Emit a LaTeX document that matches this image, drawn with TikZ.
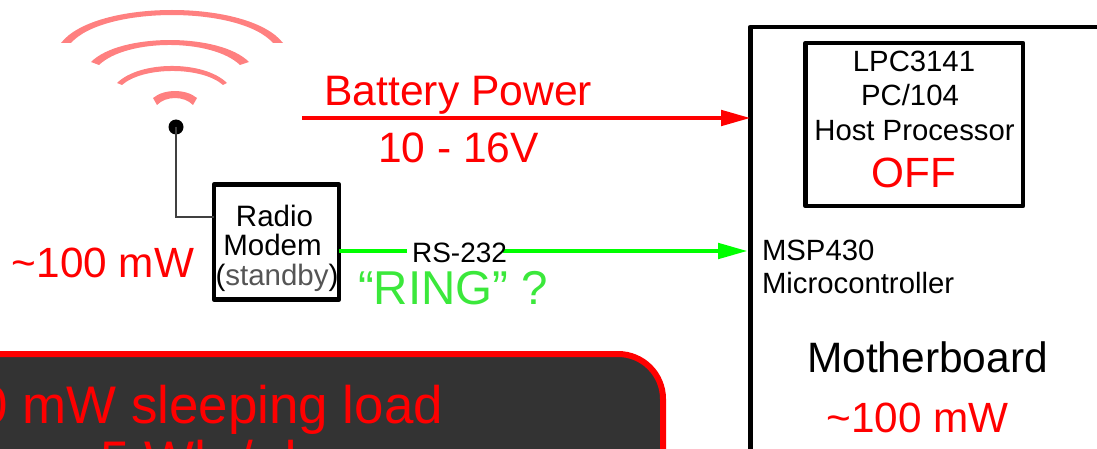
\documentclass[tikz,border=0pt]{standalone}
\usepackage{fontspec}
\setmainfont{Liberation Sans}
\usetikzlibrary{arrows.meta}
\definecolor{wave}{HTML}{FF8080}
\definecolor{ringgreen}{HTML}{3BE83B}
\definecolor{darkpanel}{HTML}{333333}
\definecolor{standbygray}{HTML}{555555}
\newcommand{\fsz}[1]{\fontsize{#1}{#1}\selectfont}
\tikzset{
  lbl/.style={inner sep=0pt,outer sep=0pt,anchor=base},
  lblw/.style={inner sep=0pt,outer sep=0pt,anchor=base west},
  heavybox/.style={draw=black,line width=4.8pt,fill=white,inner sep=0pt,outer sep=0pt,line join=round},
  wavearc/.style={fill=wave,draw=none},
  feed/.style={line width=4.8pt,-{Triangle[length=30pt,width=15pt]}}
}
\begin{document}
\begin{tikzpicture}[x=1pt,y=-1pt]
\useasboundingbox (0,0) rectangle (1097,449);
\clip (0,0) rectangle (1097,449);
% wifi waves
\fill[wavearc] (61,43) .. controls (95,-1) and (249,-1) .. (283,43) -- (273,43) .. controls (240,5.7) and (104,5.7) .. (71,43) -- cycle;
\fill[wavearc] (91,62) .. controls (120,32.7) and (220,32.7) .. (249,62) -- (240,65) .. controls (212,38.3) and (127,38.3) .. (99,65) -- cycle;
\fill[wavearc] (117,83) .. controls (140,60.3) and (204,60.3) .. (227,83) -- (223,85) .. controls (202,66.3) and (143,66.3) .. (122,85) -- cycle;
\fill[wavearc] (153,98) .. controls (164,88.7) and (186,88.7) .. (197,98) -- (193,105) .. controls (184,95.7) and (166,95.7) .. (157,105) -- cycle;
% motherboard
\node[heavybox,minimum width=360pt,minimum height=450pt,anchor=north west] (mb) at (750.4,27) {};
\node[heavybox,minimum width=217.5pt,minimum height=163pt,anchor=north west] (cpu) at (805.5,43) {};
\node[heavybox,minimum width=125pt,minimum height=114.5pt,anchor=north west] (modem) at (214,184.7) {};
\node[lbl,font=\fsz{29.5}] (tradio) at (274.5,226) {Radio};
\node[lbl,font=\fsz{29.5}] (tmodem) at (272.5,255) {Modem};
\node[lbl,font=\fsz{29.5}] (tstandby) at (277,285) {(\textcolor{standbygray}{standby})};
% antenna
\node[circle,fill=black,inner sep=0pt,minimum size=15pt] (ant) at (176,127) {};
\coordinate (modemfeed) at (214,217);
\draw[line width=1.3pt,draw=black!75] (ant.center) |- (modemfeed);
% battery
\coordinate (batstart) at (302,118);
\coordinate (batin) at (751,118);
\draw[feed,red] (batstart) -- (batin);
\node[lblw,red,font=\fsz{42.6}] (tbat) at (324.5,106) {Battery Power};
\node[lbl,red,font=\fsz{42.5}] (tvolt) at (458.5,163) {10 - 16V};
% RS-232
\coordinate (gapL) at (407,251);
\coordinate (gapR) at (503,251);
\coordinate (rsin) at (748,251);
\draw[line width=4.8pt,draw=green] (modem.east |- gapL) -- (gapL);
\draw[feed,green] (gapR) -- (rsin);
\node[lbl,font=\fsz{28}] (trs) at (459.5,262) {RS-232};
\node[lbl,ringgreen,font=\fsz{47.5}] (tring) at (453,304) {“RING” ?};
\node[lblw,red,font=\fsz{42.3}] (tp1) at (12,277) {\char"007E 100 mW};
% cpu text
\node[lbl,font=\fsz{29.3}] (t1) at (914,72) {LPC3141};
\node[lbl,font=\fsz{29.3}] (t2) at (910,105.5) {PC/104};
\node[lbl,font=\fsz{29.3}] (t3) at (914.5,140.5) {Host Processor};
\node[lbl,red,font=\fsz{42.3}] (t4) at (914,188) {OFF};
\node[lblw,font=\fsz{29.3}] (t5) at (762,260) {MSP430};
\node[lblw,font=\fsz{29.3}] (t6) at (762,293) {Microcontroller};
\node[lblw,font=\fsz{42.5}] (t7) at (807,372) {Motherboard};
\node[lblw,red,font=\fsz{42.3}] (t8) at (826.5,432) {\char"007E 100 mW};
% dark panel
\node[draw=red,fill=darkpanel,line width=6pt,rounded corners=45pt,minimum width=763pt,minimum height=200pt,anchor=north east,inner sep=0pt,outer sep=0pt] (panel) at (663,354) {};
\node[inner sep=0pt,outer sep=0pt,anchor=base east,red,font=\fsz{52.9}] (tload) at (443,423) {\char"007E 100 mW sleeping load};
\node[lblw,red,font=\fsz{52.9}] (twh) at (100,478) {5 Wh / day};
\end{tikzpicture}
\end{document}
